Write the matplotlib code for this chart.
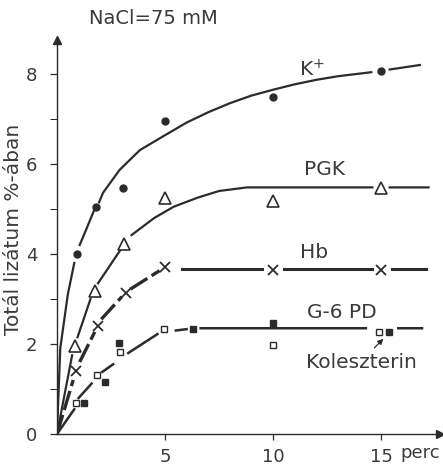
import numpy as np
import matplotlib
matplotlib.use("Agg")
import matplotlib.pyplot as plt

nan = np.nan

# measured points (time in minutes, % of total lysate)
k_time = [0.93, 1.8, 3.05, 5, 10, 15]
k_vals = [4.0, 5.04, 5.47, 6.96, 7.49, 8.07]

pgk_time = [0.83, 1.75, 3.1, 5, 10, 15]
pgk_vals = [1.96, 3.18, 4.22, 5.25, 5.18, 5.47]

hb_time = [0.9, 1.9, 3.2, 5, 10, 15]
hb_vals = [1.4, 2.4, 3.13, 3.71, 3.64, 3.64]

g6pd_time = [0.9, 1.85, 2.9, 4.95, 10, 14.9]
g6pd_vals = [0.69, 1.31, 1.83, 2.33, 1.98, 2.27]

chol_time = [1.25, 2.2, 2.85, 6.3, 10, 15.35]
chol_vals = [0.69, 1.16, 2.02, 2.33, 2.47, 2.27]

# hand drawn curves (nan = gap in the line)
k_curve_x = [0, 0.15, 0.5, 0.8, nan, 1.05, 1.4, 1.7, nan, 1.95, 2.13, 2.9, 3.84, 5, 6, 7, 8, 9, 10, 11, 12, 13, 14.55, nan, 15.4, 16.8]
k_curve_y = [0, 1.9, 3.1, 3.8, nan, 4.2, 4.6, 4.95, nan, 5.15, 5.36, 5.87, 6.31, 6.64, 6.92, 7.15, 7.35, 7.52, 7.65, 7.77, 7.87, 7.95, 8.04, nan, 8.1, 8.2]

pgk_curve_x = [0, 0.7, nan, 0.95, 1.55, nan, 1.9, 2.95, nan, 3.45, 4.5, 5.4, 6.5, 7.5, 8.8, 14.6, nan, 15.4, 17.2]
pgk_curve_y = [0, 1.75, nan, 2.15, 3.0, nan, 3.35, 4.1, nan, 4.42, 4.8, 5.05, 5.25, 5.4, 5.48, 5.48, nan, 5.48, 5.48]

hb_curve_x = [0, 0.75, nan, 1.05, 1.75, nan, 2.05, 3.0, nan, 3.4, 4.75]
hb_curve_y = [0, 1.2, nan, 1.6, 2.27, nan, 2.55, 3.05, nan, 3.22, 3.63]
hb_plateau_x = [5.8, 9.5, nan, 10.5, 14.6, nan, 15.5, 17.1]
hb_plateau_y = [3.67, 3.67, nan, 3.67, 3.67, nan, 3.67, 3.67]

g6pd_curve_x = [0, 0.8, nan, 1.0, 1.6, nan, 2.1, 2.6, nan, 3.3, 4.65, nan, 5.5, 6.0, nan, 6.65, 14.3, nan, 15.8, 16.9]
g6pd_curve_y = [0, 0.55, nan, 0.8, 1.12, nan, 1.38, 1.55, nan, 1.8, 2.22, nan, 2.3, 2.33, nan, 2.35, 2.35, nan, 2.35, 2.35]

ink = "#2b2b2b"
txt = "#3a3a3a"

fig = plt.figure(figsize=(4.43, 4.67), dpi=100)
ax = fig.add_axes([57 / 443, 33 / 467, 383 / 443, 394 / 467])
ax.set_xlim(0, 383 / 21.6)
ax.set_ylim(0, 394 / 45)

# curves
ax.plot(k_curve_x, k_curve_y, color=ink, lw=1.6)
ax.plot(pgk_curve_x, pgk_curve_y, color=ink, lw=1.6)
ax.plot(hb_curve_x, hb_curve_y, color=ink, lw=2.4, dashes=(6, 1.5))
ax.plot(hb_plateau_x, hb_plateau_y, color=ink, lw=2.2)
ax.plot(g6pd_curve_x, g6pd_curve_y, color=ink, lw=1.8)

# markers
ax.plot(k_time, k_vals, 'o', color=ink, ms=5, ls='none')
ax.plot(pgk_time, pgk_vals, '^', mfc='white', mec=ink, mew=1.2, ms=9, ls='none')
ax.plot(hb_time, hb_vals, 'x', color=ink, mew=1.3, ms=7, ls='none')
ax.plot(g6pd_time, g6pd_vals, 's', mfc='white', mec=ink, mew=1.0, ms=5, ls='none')
ax.plot(chol_time, chol_vals, 's', color=ink, ms=5, ls='none')

# labels on the curves
fs = 13
lfs = 14.5
ax.text(11.8, 8.1, "K$^{+}$", fontsize=lfs, color=txt, ha='center', va='center')
ax.text(12.4, 5.87, "PGK", fontsize=lfs, color=txt, ha='center', va='center')
ax.text(11.9, 4.04, "Hb", fontsize=lfs, color=txt, ha='center', va='center')
ax.text(13.2, 2.71, "G-6 PD", fontsize=lfs, color=txt, ha='center', va='center')
ax.text(14.1, 1.58, "Koleszterin", fontsize=lfs, color=txt, ha='center', va='center')
ax.annotate("", xy=(15.2, 2.16), xytext=(14.6, 1.87),
            arrowprops=dict(arrowstyle='-|>', color=ink, lw=0.9, mutation_scale=8))

# axes styling
for s in ['top', 'right']:
    ax.spines[s].set_visible(False)
for s in ['left', 'bottom']:
    ax.spines[s].set_color(ink)
    ax.spines[s].set_linewidth(1.0)
ax.plot(1, 0, '>', color=ink, ms=6, transform=ax.transAxes, clip_on=False)
ax.plot(0, 1, '^', color=ink, ms=6, transform=ax.transAxes, clip_on=False)

ax.set_xticks([5, 10, 15])
ax.set_xticklabels(["5", "10", "15"])
ax.set_yticks([0, 2, 4, 6, 8])
ax.set_yticks([1, 3, 5, 7], minor=True)
ax.tick_params(axis='both', colors=ink, labelcolor=txt, labelsize=fs, width=0.9)
ax.tick_params(axis='y', which='both', length=5, pad=9)
ax.tick_params(axis='x', length=4, pad=6)
ax.set_ylabel("Totál lizátum %-ában", fontsize=14.5, color=txt)
ax.yaxis.set_label_coords(-0.088, 0.52)

fig.text(420 / 443, 1 - 453 / 467, "perc", fontsize=13, color=txt, ha='center', va='center')
fig.text(153 / 443, 1 - 18 / 467, "NaCl=75 mM", fontsize=14, color=txt, ha='center', va='center')

fig.savefig("out.png", dpi=100, facecolor='white')
